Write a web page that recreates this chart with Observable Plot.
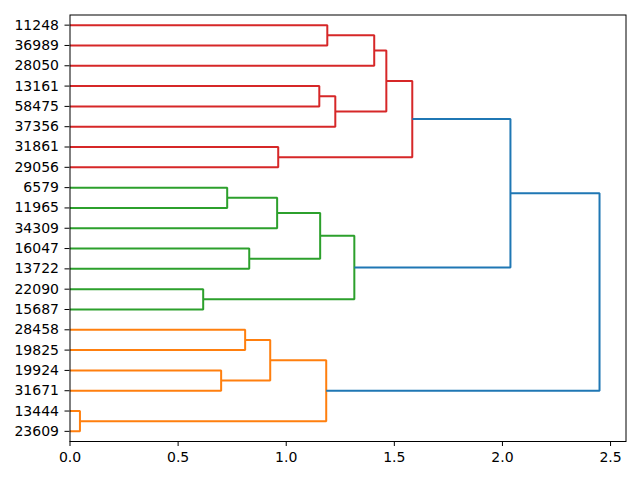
<!DOCTYPE html>
<html><head><meta charset="utf-8">
<script src="https://cdn.jsdelivr.net/npm/d3@7"></script>
<script src="https://cdn.jsdelivr.net/npm/@observablehq/plot@0.6"></script>
<style>body{margin:0;background:#fff}</style>
</head><body><div id="chart"></div>
<script>
// leaf labels, top to bottom
const leaves = ["11248","36989","28050","13161","58475","37356","31861","29056","6579","11965","34309","16047","13722","22090","15687","28458","19825","19924","31671","13444","23609"];
// linkage: index < 21 = leaf, >= 21 = earlier merge (21 + k)
const mergeLeft   = [19, 13, 17, 8, 15, 11, 23, 24, 6, 3, 28, 27, 0, 30, 31, 33, 36, 37, 38, 39];
const mergeRight  = [20, 14, 18, 9, 16, 12, 25, 10, 7, 4, 26, 21, 1, 5, 22, 2, 34, 29, 35, 32];
const mergeHeight = [0.046, 0.616, 0.699, 0.727, 0.810, 0.829, 0.926, 0.958, 0.963, 1.153, 1.157, 1.185, 1.190, 1.227, 1.315, 1.407, 1.463, 1.583, 2.037, 2.449];
const mergeColor  = ["C1","C2","C1","C2","C1","C2","C1","C2","C3","C3","C2","C1","C3","C3","C2","C3","C3","C3","C0","C0"];
const xTicks = [0, 0.5, 1.0, 1.5, 2.0, 2.5];
const colorNames = ["C0","C1","C2","C3"];
const colorValues = ["#1f77b4","#ff7f0e","#2ca02c","#d62728"];

const n = leaves.length;
const nodes = leaves.map((_, i) => ({y: 10 * (n - 1 - i) + 5, h: 0}));
const pts = [];
mergeHeight.forEach((H, k) => {
  const a = nodes[mergeLeft[k]], b = nodes[mergeRight[k]];
  const c = mergeColor[k];
  pts.push({x: a.h, y: a.y, k, c}, {x: H, y: a.y, k, c}, {x: H, y: b.y, k, c}, {x: b.h, y: b.y, k, c});
  nodes.push({y: (a.y + b.y) / 2, h: H});
});
const leafY = leaves.map((_, i) => 10 * (n - 1 - i) + 5);
const xMax = d3.max(mergeHeight) * 1.05;

const chart = Plot.plot({
  width: 640, height: 480,
  marginLeft: 69.5, marginRight: 14.5, marginTop: 14.5, marginBottom: 39,
  style: {fontFamily: "DejaVu Sans", background: "#fff", color: "#000"},
  x: {domain: [0, xMax]},
  y: {domain: [0, 10 * n]},
  color: {domain: colorNames, range: colorValues},
  marks: [
    Plot.line(pts, {x: "x", y: "y", z: "k", stroke: "c", strokeWidth: 2, strokeLinejoin: "miter", strokeLinecap: "butt"}),
    Plot.frame({stroke: "#000", strokeWidth: 1}),
    Plot.axisX(xTicks, {tickSize: 5, tickPadding: 5.5, fontSize: 14, tickFormat: d3.format(".1f"), stroke: "#000", label: null}),
    Plot.axisY(leafY, {tickSize: 5, tickPadding: 6, fontSize: 14, tickFormat: (d) => leaves[(n - 1) - (d - 5) / 10], stroke: "#000", label: null})
  ]
});
document.getElementById("chart").appendChild(chart);
</script>
</body></html>
